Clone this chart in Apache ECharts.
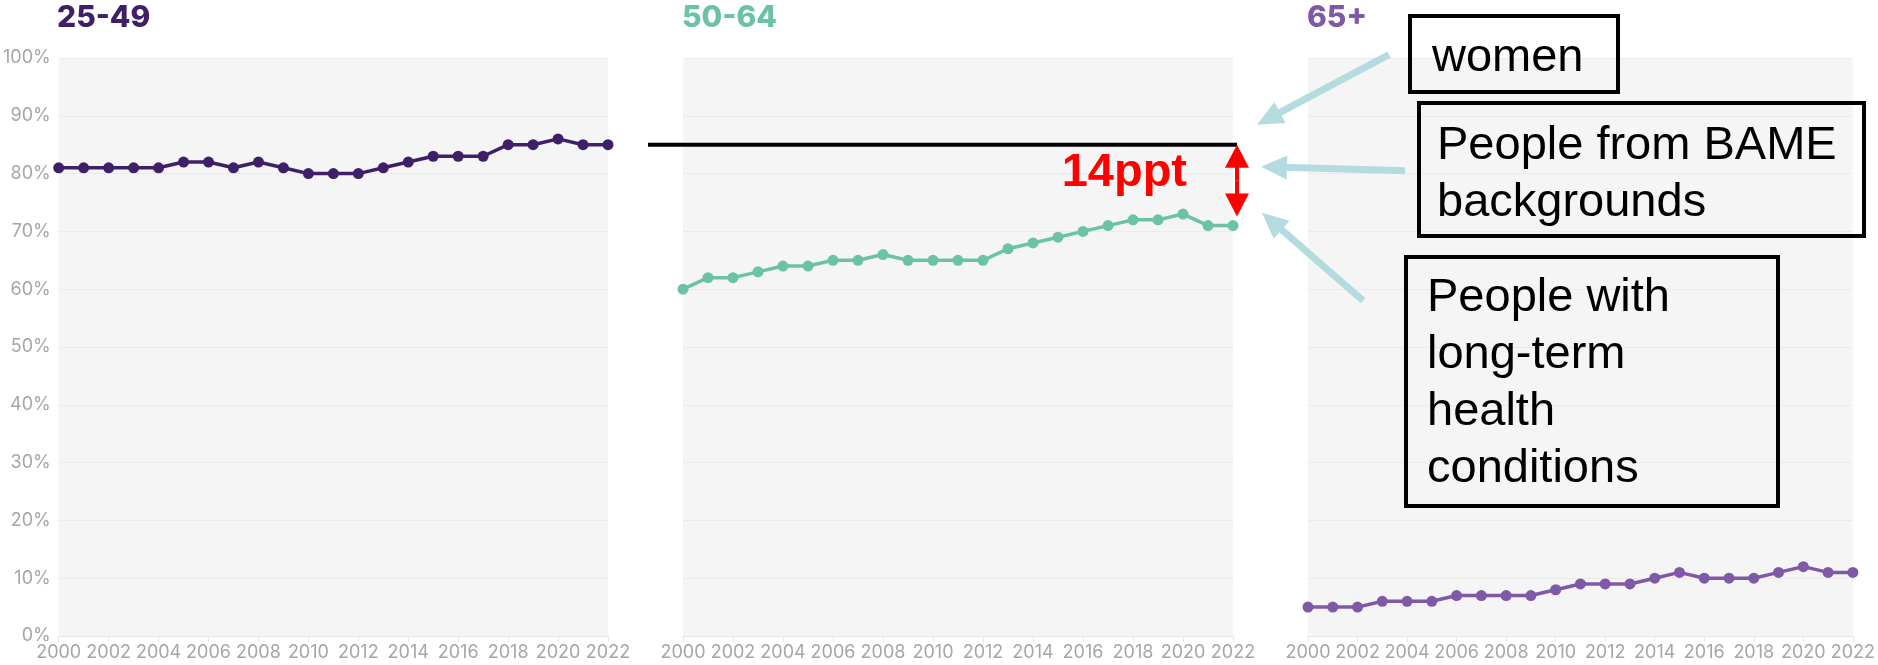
<!DOCTYPE html>
<html>
<head>
<meta charset="utf-8">
<title>Employment rate by age group, 2000–2022</title>
<script src="https://cdn.jsdelivr.net/npm/echarts@6/dist/echarts.min.js"></script>
<style>
  html, body { margin: 0; padding: 0; background: #ffffff; }
  #chart { width: 1878px; height: 665px; }
</style>
</head>
<body>
<div id="chart"></div>
<script>
// Years on the x axis
const years = ['2000', '2001', '2002', '2003', '2004', '2005', '2006', '2007', '2008', '2009', '2010',
  '2011', '2012', '2013', '2014', '2015', '2016', '2017', '2018', '2019', '2020', '2021', '2022'];

// Panel titles
const ageGroups = ['25-49', '50-64', '65+'];

// Employment rate (%) per age group
const rate25to49 = [81, 81, 81, 81, 81, 82, 82, 81, 82, 81, 80, 80, 80, 81, 82, 83, 83, 83, 85, 85, 86, 85, 85];
const rate50to64 = [60, 62, 62, 63, 64, 64, 65, 65, 66, 65, 65, 65, 65, 67, 68, 69, 70, 71, 72, 72, 73, 71, 71];
const rate65plus = [5, 5, 5, 6, 6, 6, 7, 7, 7, 7, 8, 9, 9, 9, 10, 11, 10, 10, 10, 11, 12, 11, 11];

// Groups the gap callout points at
const calloutLabels = ['women', 'People from BAME\nbackgrounds', 'People with\nlong-term\nhealth\nconditions'];

const groupColors = ['#3f2068', '#6cc3a3', '#7f59a8'];
const seriesData = [rate25to49, rate50to64, rate65plus];

const axisFont = 'Inter, "Open Sans", sans-serif';
const tickColor = '#a6a6a6';

const chart = echarts.init(document.getElementById('chart'), null, { renderer: 'canvas' });

const gridLefts = [58, 683, 1308];
const grids = gridLefts.map(l => ({
  left: l, top: 58, width: 550, height: 578,
  show: true, backgroundColor: '#f5f5f5', borderWidth: 0, containLabel: false
}));

const xAxes = grids.map((g, i) => ({
  type: 'category', gridIndex: i, data: years, boundaryGap: false,
  axisLine: { show: true, lineStyle: { color: '#e6e6e6', width: 1 } },
  axisTick: { show: true, interval: 1, length: 6, lineStyle: { color: '#e6e6e6' } },
  axisLabel: { interval: 1, color: tickColor, fontFamily: axisFont, fontSize: 18, margin: 8 },
  splitLine: { show: false }
}));

const yAxes = grids.map((g, i) => ({
  type: 'value', gridIndex: i, min: 0, max: 100, interval: 10,
  axisLine: { show: false }, axisTick: { show: false },
  axisLabel: { show: i === 0, formatter: '{value}%', color: tickColor, fontFamily: axisFont, fontSize: 18, margin: 8 },
  splitLine: { show: true, lineStyle: { color: '#ebebeb', width: 1 } }
}));

const series = seriesData.map((d, i) => ({
  type: 'line', name: ageGroups[i], xAxisIndex: i, yAxisIndex: i, data: d,
  symbol: 'circle', symbolSize: 11, showSymbol: true,
  lineStyle: { color: groupColors[i], width: 3.5 },
  itemStyle: { color: groupColors[i] },
  z: 3, animation: false
}));

const titles = ageGroups.map((t, i) => ({
  text: t, left: gridLefts[i] - 1, top: 3, padding: 0,
  textStyle: { color: groupColors[i], fontFamily: axisFont, fontWeight: 800, fontSize: 30 }
}));

chart.setOption({
  animation: false,
  title: titles,
  grid: grids,
  xAxis: xAxes,
  yAxis: yAxes,
  series: series
});

// ---- Gap callout between the 25-49 and 50-64 rates in the final year ----
const last = years.length - 1;
const topValue = rate25to49[last];
const bottomValue = rate50to64[last];
const gap = topValue - bottomValue;

const pTop = chart.convertToPixel({ xAxisIndex: 1, yAxisIndex: 1 }, [last, topValue]);
const pBottom = chart.convertToPixel({ xAxisIndex: 1, yAxisIndex: 1 }, [last, bottomValue]);
const pStart = chart.convertToPixel({ xAxisIndex: 1, yAxisIndex: 1 }, [0, topValue]);

const arrowX = pTop[0] + 4;
const yTop = pTop[1];
const yBottom = pBottom[1] - 9;

function arrowShapes(tail, tip, shaftWidth, headLen, headHalf, color) {
  const dx = tip[0] - tail[0], dy = tip[1] - tail[1];
  const len = Math.hypot(dx, dy);
  const ux = dx / len, uy = dy / len;
  const bx = tip[0] - ux * headLen, by = tip[1] - uy * headLen;
  const nx = -uy, ny = ux;
  return [
    { type: 'line', shape: { x1: tail[0], y1: tail[1], x2: bx + ux * 2, y2: by + uy * 2 },
      style: { stroke: color, lineWidth: shaftWidth }, z: 20 },
    { type: 'polygon', shape: { points: [tip, [bx + nx * headHalf, by + ny * headHalf], [bx - nx * headHalf, by - ny * headHalf]] },
      style: { fill: color }, z: 20 }
  ];
}

const red = '#ff0000';
const blue = '#b4dbe0';

const graphics = [];

// Reference level of the 25-49 rate, drawn across the 50-64 panel
graphics.push({ type: 'line', shape: { x1: pStart[0] - 35, y1: yTop, x2: arrowX, y2: yTop },
  style: { stroke: '#000000', lineWidth: 4 }, z: 20 });

// Double-headed red arrow spanning the gap
graphics.push(...arrowShapes([arrowX, (yTop + yBottom) / 2], [arrowX, yTop], 4, 23, 12, red));
graphics.push(...arrowShapes([arrowX, (yTop + yBottom) / 2], [arrowX, yBottom], 4, 23, 12, red));

graphics.push({ type: 'text', x: arrowX - 50, y: (yTop + yBottom) / 2 - 8, z: 20,
  style: { text: gap + 'ppt', fill: red, font: 'bold 47px "Liberation Sans", Arial, sans-serif',
    align: 'right', verticalAlign: 'middle' } });

// Pointer arrows from each callout box
graphics.push(...arrowShapes([arrowX + 152, yTop - 90], [arrowX + 20, yTop - 20], 7, 26, 12, blue));
graphics.push(...arrowShapes([arrowX + 168, yTop + 26], [arrowX + 24, yTop + 22], 7, 26, 12, blue));
graphics.push(...arrowShapes([arrowX + 126, yTop + 156], [arrowX + 25, yTop + 68], 7, 26, 12, blue));

// Callout boxes
const boxes = [
  { x: 1410, y: 16, w: 208, h: 76, tx: 1432, ty: 30 },
  { x: 1419, y: 103, w: 445, h: 133, tx: 1437, ty: 118 },
  { x: 1406, y: 257, w: 372, h: 249, tx: 1427, ty: 270 }
];
boxes.forEach((b, i) => {
  graphics.push({ type: 'rect', shape: { x: b.x, y: b.y, width: b.w, height: b.h },
    style: { fill: 'none', stroke: '#000000', lineWidth: 4 }, z: 20 });
  graphics.push({ type: 'text', x: b.tx, y: b.ty, z: 21,
    style: { text: calloutLabels[i], fill: '#000000', font: '47px "Liberation Sans", Arial, sans-serif',
      lineHeight: 57, align: 'left', verticalAlign: 'top' } });
});

chart.setOption({ graphic: graphics });
</script>
</body>
</html>
